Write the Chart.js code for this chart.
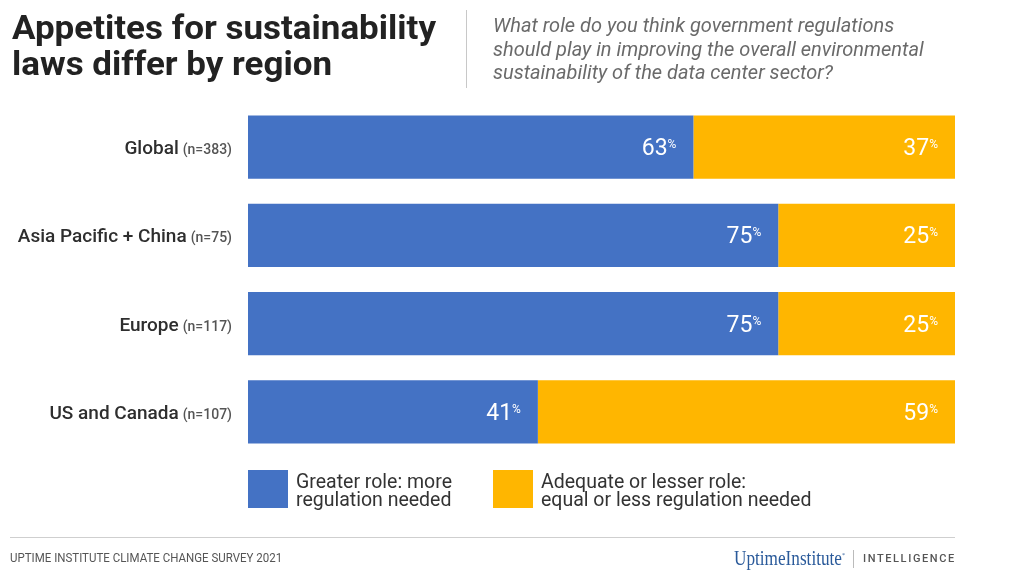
<!DOCTYPE html>
<html>
<head>
<meta charset="utf-8">
<script src="https://cdn.jsdelivr.net/npm/chart.js@4.4.1/dist/chart.umd.min.js"></script>
<style>
  html, body { margin: 0; padding: 0; background: #fff; }
  #wrap { position: relative; width: 1010px; height: 573px; overflow: hidden; font-family: Roboto, "Noto Sans", sans-serif; }
  #chart { position: absolute; left: 0; top: 0; }
  .title { position: absolute; left: 12px; top: 10px; font-size: 33px; font-weight: 700; line-height: 36px; color: #222; transform: scaleX(1.06); transform-origin: left; white-space: nowrap; }
  .divider { position: absolute; left: 466px; top: 10px; width: 1px; height: 78px; background: #c8c8c8; }
  .question { position: absolute; left: 493px; top: 14px; font-size: 20px; font-style: italic; line-height: 23.5px; color: #6a6a6a; white-space: nowrap; }
  .legend { position: absolute; top: 470px; display: flex; }
  .legend .sw { width: 40px; height: 38px; margin-right: 8px; }
  .legend .txt { font-size: 19.5px; line-height: 18px; color: #333; padding-top: 3px; white-space: nowrap; }
  .rule { position: absolute; left: 10px; top: 537px; width: 945px; height: 1px; background: #cfcfcf; }
  .source { position: absolute; left: 10px; top: 550px; font-size: 12.5px; color: #555; transform: scaleX(0.92); transform-origin: left; white-space: nowrap; }
  .logo { position: absolute; left: 734px; top: 547px; display: flex; align-items: center; }
  .logo .brand { font-family: "Liberation Serif", "DejaVu Serif", serif; font-size: 20px; color: #2a5a9a; transform: scaleX(0.86); transform-origin: left; width: 119px; white-space: nowrap; }
  .logo .bar { width: 1px; height: 18px; background: #bbb; margin: 0 9px 0 0; }
  .logo .intel { font-size: 11px; font-weight: 500; letter-spacing: 1.6px; color: #555; }
</style>
</head>
<body>
<div id="wrap">
  <canvas id="chart" width="1010" height="573"></canvas>
  <div class="title">Appetites for sustainability<br>laws differ by region</div>
  <div class="divider"></div>
  <div class="question">What role do you think government regulations<br>should play in improving the overall environmental<br>sustainability of the data center sector?</div>
  <div class="legend" style="left:248px"><div class="sw" style="background:#4472c4"></div><div class="txt">Greater role: more<br>regulation needed</div></div>
  <div class="legend" style="left:493px"><div class="sw" style="background:#ffb600"></div><div class="txt">Adequate or lesser role:<br>equal or less regulation needed</div></div>
  <div class="rule"></div>
  <div class="source">UPTIME INSTITUTE CLIMATE CHANGE SURVEY 2021</div>
  <div class="logo"><div class="brand">UptimeInstitute<sup style="font-size:7px">*</sup></div><div class="bar"></div><div class="intel">INTELLIGENCE</div></div>
</div>
<script>
const regions = ['Global', 'Asia Pacific + China', 'Europe', 'US and Canada'];
const sampleSizes = ['(n=383)', '(n=75)', '(n=117)', '(n=107)'];
const greaterRole = [63, 75, 75, 41];
const adequateRole = [37, 25, 25, 59];

const BLUE = '#4472c4';
const ORANGE = '#ffb600';

// etiquetas de región a la izquierda + porcentajes dentro de las barras
const labelPlugin = {
    id: 'labels',
    afterDatasetsDraw(chart) {
        const ctx = chart.ctx;
        const y = chart.scales.y;
        ctx.save();
        ctx.textBaseline = 'alphabetic';
        ctx.textAlign = 'right';
        regions.forEach((name, i) => {
            const base = y.getPixelForValue(i) + 7;
            ctx.font = '500 14px Roboto';
            const nW = ctx.measureText(sampleSizes[i]).width;
            ctx.fillStyle = '#555';
            ctx.fillText(sampleSizes[i], 232, base);
            ctx.font = '500 19px Roboto';
            ctx.fillStyle = '#2e2e2e';
            ctx.fillText(name, 232 - nW - 4, base);
        });

        chart.data.datasets.forEach((ds, di) => {
            const meta = chart.getDatasetMeta(di);
            meta.data.forEach((bar, i) => {
                const right = bar.x - 17;
                const base = bar.y + 8;
                ctx.fillStyle = '#fff';
                ctx.font = '12px Roboto';
                const pW = ctx.measureText('%').width;
                ctx.fillText('%', right, base - 7);
                ctx.font = '23px Roboto';
                ctx.fillText(String(ds.data[i]), right - pW, base);
            });
        });
        ctx.restore();
    }
};

new Chart(document.getElementById('chart'), {
    type: 'bar',
    data: {
        labels: regions,
        datasets: [
            { label: 'Greater role: more regulation needed', data: greaterRole, backgroundColor: BLUE },
            { label: 'Adequate or lesser role: equal or less regulation needed', data: adequateRole, backgroundColor: ORANGE }
        ]
    },
    options: {
        indexAxis: 'y',
        responsive: false,
        animation: false,
        layout: { padding: { left: 248, right: 55, top: 103, bottom: 117 } },
        datasets: { bar: { categoryPercentage: 1, barPercentage: 0.715 } },
        scales: {
            x: { stacked: true, min: 0, max: 100, display: false },
            y: { stacked: true, display: false }
        },
        plugins: {
            legend: { display: false },
            tooltip: { enabled: false }
        }
    },
    plugins: [labelPlugin]
});
</script>
</body>
</html>
